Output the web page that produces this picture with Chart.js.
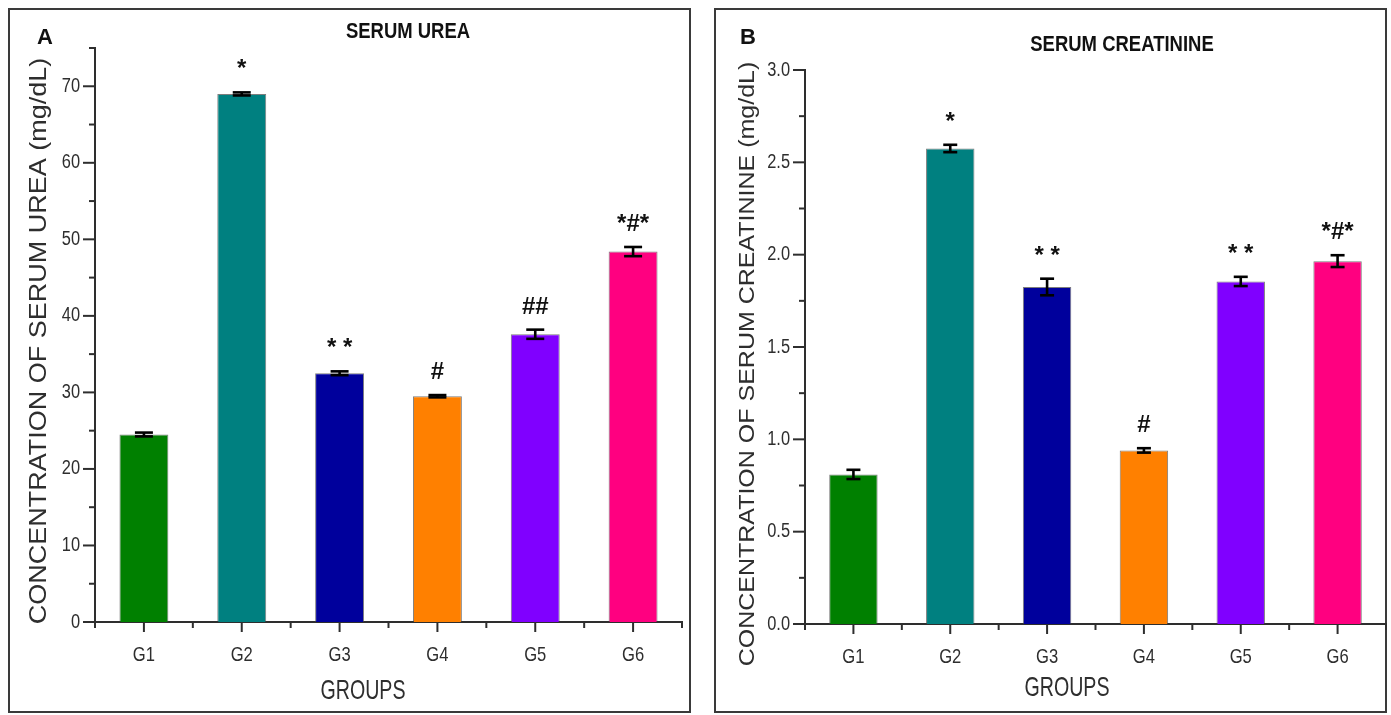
<!DOCTYPE html>
<html>
<head>
<meta charset="utf-8">
<script src="https://cdn.jsdelivr.net/npm/chart.js@4.4.0/dist/chart.umd.min.js"></script>
<style>
  html, body { margin: 0; padding: 0; background: #fff; width: 1391px; height: 715px; overflow: hidden; }
  .frame { position: absolute; border: 2px solid #3a3a3a; box-sizing: border-box; }
  canvas { position: absolute; top: 0; }
</style>
</head>
<body>
<div class="frame" style="left:8px;top:8px;width:683px;height:705px"></div>
<div class="frame" style="left:714px;top:8px;width:673px;height:705px"></div>
<canvas id="urea" width="700" height="715" style="left:0"></canvas>
<canvas id="creat" width="691" height="715" style="left:700px"></canvas>
<script>
// Treatment groups and bar fills
const groups = ['G1', 'G2', 'G3', 'G4', 'G5', 'G6'];
const barColors = ['#008000', '#008080', '#00009c', '#ff8000', '#8000ff', '#ff0080'];

// Serum urea (mg/dL): mean, SEM, significance marks, axis labels
const ureaMean = [24.5, 69.0, 32.5, 29.5, 37.6, 48.4];
const ureaSem = [0.25, 0.2, 0.25, 0.15, 0.6, 0.6];
const ureaMarks = ['', '*', '* *', '#', '##', '*#*'];
const ureaTicks = ['0', '10', '20', '30', '40', '50', '60', '70'];

// Serum creatinine (mg/dL): mean, SEM, significance marks, axis labels
const creatMean = [0.81, 2.575, 1.825, 0.94, 1.855, 1.965];
const creatSem = [0.025, 0.02, 0.045, 0.012, 0.025, 0.032];
const creatMarks = ['', '*', '* *', '#', '* *', '*#*'];
const creatTicks = ['0.0', '0.5', '1.0', '1.5', '2.0', '2.5', '3.0'];

const FONT = '"Liberation Sans", Arial, sans-serif';
const AXIS = '#2e2e2e';

function drawText(ctx, str, x, y, font, sx, align, base, color) {
  ctx.save();
  ctx.translate(x, y);
  ctx.scale(sx, 1);
  ctx.font = font;
  ctx.textAlign = align;
  ctx.textBaseline = base;
  ctx.fillStyle = color;
  ctx.fillText(str, 0, 0);
  ctx.restore();
}

function drawVertical(ctx, str, cx, cy, font, cross, color) {
  ctx.save();
  ctx.translate(cx, cy);
  ctx.rotate(-Math.PI / 2);
  ctx.scale(1, cross);
  ctx.font = font;
  ctx.textAlign = 'center';
  ctx.textBaseline = 'middle';
  ctx.fillStyle = color;
  ctx.fillText(str, 0, 0);
  ctx.restore();
}

function seg(ctx, x1, y1, x2, y2) {
  ctx.beginPath();
  ctx.moveTo(x1, y1);
  ctx.lineTo(x2, y2);
  ctx.stroke();
}

// Error bars, significance marks, ticks and all panel text
const panelDecor = {
  id: 'panelDecor',
  afterDatasetsDraw(chart, args, o) {
    const ctx = chart.ctx;
    const ys = chart.scales.y;
    const meta = chart.getDatasetMeta(0);
    ctx.save();
    ctx.strokeStyle = '#000';
    ctx.lineWidth = 2.6;
    meta.data.forEach((bar, i) => {
      const m = o.mean[i], e = o.sem[i];
      const yt = ys.getPixelForValue(m + e);
      const yb = ys.getPixelForValue(m - e);
      seg(ctx, bar.x, yt, bar.x, yb);
      seg(ctx, bar.x - o.cap, yt, bar.x + o.cap, yt);
      seg(ctx, bar.x - o.cap, yb, bar.x + o.cap, yb);
      if (o.marks[i]) {
        drawText(ctx, o.marks[i], bar.x, yt - 16, 'bold 24px ' + FONT, 1, 'center', 'alphabetic', '#111');
      }
    });
    ctx.restore();
  },
  afterDraw(chart, args, o) {
    const ctx = chart.ctx;
    const xs = chart.scales.x, ys = chart.scales.y;
    const a = chart.chartArea;
    ctx.save();
    ctx.strokeStyle = AXIS;
    ctx.lineWidth = 2;
    ctx.lineCap = 'butt';

    // y axis: labelled major ticks, short minor ticks halfway between
    const vals = o.ticks.map(parseFloat);
    const step = vals[1] - vals[0];
    vals.forEach((v, i) => {
      const py = ys.getPixelForValue(v);
      seg(ctx, a.left - 12, py, a.left, py);
      drawText(ctx, o.ticks[i], a.left - 15, py, '20px ' + FONT, 0.82, 'right', 'middle', AXIS);
      const mid = v + step / 2;
      if (mid <= ys.max + 1e-9) {
        const pm = ys.getPixelForValue(mid);
        seg(ctx, a.left - 6, pm, a.left, pm);
      }
    });

    // x axis: long ticks at groups, short ticks at group boundaries
    groups.forEach((g, i) => {
      const px = xs.getPixelForValue(i);
      seg(ctx, px, a.bottom, px, a.bottom + 10);
      drawText(ctx, g, px, a.bottom + 33, '21px ' + FONT, 0.79, 'center', 'middle', AXIS);
      const half = (i < groups.length - 1 ? xs.getPixelForValue(i + 1) - px : px - xs.getPixelForValue(i - 1)) / 2;
      seg(ctx, px - half, a.bottom, px - half, a.bottom + 6);
      if (i === groups.length - 1) seg(ctx, px + half, a.bottom, px + half, a.bottom + 6);
    });

    // titles
    drawText(ctx, o.letter, o.letterPos[0], o.letterPos[1], 'bold 22px ' + FONT, 1, 'center', 'middle', '#111');
    drawText(ctx, o.title, o.titlePos[0], o.titlePos[1], 'bold 22px ' + FONT, 0.84, 'center', 'middle', '#111');
    drawVertical(ctx, o.yTitle, o.yTitlePos[0], o.yTitlePos[1], o.yTitleFont + 'px ' + FONT, 0.86, AXIS);
    drawText(ctx, 'GROUPS', o.xTitlePos[0], o.xTitlePos[1], '28px ' + FONT, 0.7, 'center', 'middle', AXIS);
    ctx.restore();
  }
};

function makePanel(id, mean, sem, max, pad, deco) {
  return new Chart(document.getElementById(id), {
    type: 'bar',
    data: {
      labels: groups,
      datasets: [{
        data: mean,
        backgroundColor: barColors,
        borderColor: 'rgba(70,70,70,0.7)',
        borderWidth: 1,
        barPercentage: 0.5,
        categoryPercentage: 1
      }]
    },
    options: {
      responsive: false,
      animation: false,
      events: [],
      layout: { padding: pad },
      plugins: {
        legend: { display: false },
        tooltip: { enabled: false },
        panelDecor: Object.assign({ mean: mean, sem: sem }, deco)
      },
      scales: {
        x: {
          grid: { display: false },
          ticks: { display: false },
          border: { display: true, color: AXIS, width: 2 },
          afterFit: s => { s.height = 0; }
        },
        y: {
          min: 0,
          max: max,
          grid: { display: false },
          ticks: { display: false },
          border: { display: true, color: AXIS, width: 2 },
          afterFit: s => { s.width = 0; }
        }
      }
    },
    plugins: [panelDecor]
  });
}

makePanel('urea', ureaMean, ureaSem, 75,
  { left: 95, top: 48, right: 18, bottom: 93 },
  {
    marks: ureaMarks, ticks: ureaTicks, cap: 9,
    letter: 'A', letterPos: [45, 38],
    title: 'SERUM UREA', titlePos: [408, 32],
    yTitle: 'CONCENTRATION OF SERUM UREA (mg/dL)', yTitlePos: [40, 341], yTitleFont: 27,
    xTitlePos: [363, 691]
  });

makePanel('creat', creatMean, creatSem, 3,
  { left: 105, top: 70, right: 5, bottom: 91 },
  {
    marks: creatMarks, ticks: creatTicks, cap: 7,
    letter: 'B', letterPos: [48, 38],
    title: 'SERUM CREATININE', titlePos: [422, 45],
    yTitle: 'CONCENTRATION OF SERUM CREATININE (mg/dL)', yTitlePos: [48, 364], yTitleFont: 25,
    xTitlePos: [367, 688]
  });
</script>
</body>
</html>
